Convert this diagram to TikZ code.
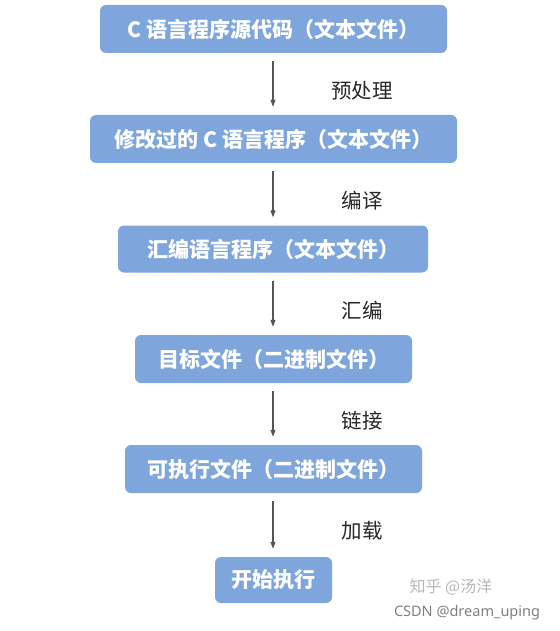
\documentclass[tikz,border=0pt]{standalone}
\usepackage{fontspec}
\setmainfont{Noto Sans}
\newfontfamily\cjk{Noto Sans CJK SC}
\usetikzlibrary{arrows.meta}
\definecolor{boxblue}{RGB}{126,166,220}
\definecolor{arrgray}{RGB}{85,85,85}
\definecolor{lblgray}{RGB}{40,40,40}
\begin{document}
\begin{tikzpicture}[x=1pt,y=-1pt,
  stepbox/.style={fill=boxblue,rounded corners=6pt,inner sep=0pt,
    text=white,font=\cjk\bfseries\fontsize{21}{24}\selectfont},
  flow/.style={draw=arrgray,line width=1.1pt,-{Triangle[length=7pt,width=5pt]}},
  lbl/.style={text=lblgray,font=\cjk\fontsize{20.5}{23}\selectfont}]
\useasboundingbox (0,0) rectangle (559,631);
\fill[white] (0,0) rectangle (559,631);
% boxes
\node[stepbox,minimum width=347pt,minimum height=48pt] (b1) at (273.5,29) {C 语言程序源代码（文本文件）};
\node[stepbox,minimum width=367pt,minimum height=48pt] (b2) at (273.5,139) {修改过的 C 语言程序（文本文件）};
\node[stepbox,minimum width=310pt,minimum height=47pt] (b3) at (273,249) {汇编语言程序（文本文件）};
\node[stepbox,minimum width=277pt,minimum height=48pt] (b4) at (273.5,359) {目标文件（二进制文件）};
\node[stepbox,minimum width=297pt,minimum height=48pt] (b5) at (273.5,469) {可执行文件（二进制文件）};
\node[stepbox,minimum width=117pt,minimum height=46pt] (b6) at (273.5,580) {开始执行};
% arrows
\coordinate (ax) at (273,0);
\draw[flow] ([yshift=-8pt]b1.south -| ax) -- ([yshift=8pt]b2.north -| ax);
\draw[flow] ([yshift=-8pt]b2.south -| ax) -- ([yshift=8pt]b3.north -| ax);
\draw[flow] ([yshift=-8pt]b3.south -| ax) -- ([yshift=8pt]b4.north -| ax);
\draw[flow] ([yshift=-8pt]b4.south -| ax) -- ([yshift=8pt]b5.north -| ax);
\draw[flow] ([yshift=-8pt]b5.south -| ax) -- ([yshift=8pt]b6.north -| ax);
% labels
\node[lbl] (l1) at (362,91) {预处理};
\node[lbl] (l2) at (362,201) {编译};
\node[lbl] (l3) at (362,311) {汇编};
\node[lbl] (l4) at (362,421) {链接};
\node[lbl] (l5) at (362,531) {加载};
% watermarks
\node[text=black!28,font=\cjk\fontsize{16}{18}\selectfont] (w1) at (451,587) {知乎 @汤洋};
\node[text=black!50,font=\fontsize{14.5}{17}\selectfont] (w2) at (467,613) {CSDN @dream\_uping};
\end{tikzpicture}
\end{document}
